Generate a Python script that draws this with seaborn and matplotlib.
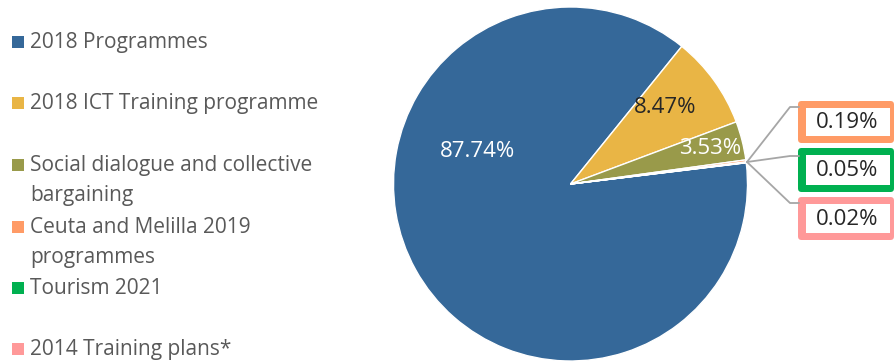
import matplotlib
matplotlib.use("Agg")
import matplotlib.pyplot as plt
from matplotlib.patches import Rectangle, FancyBboxPatch
from matplotlib.lines import Line2D
import seaborn as sns

sns.set_theme(style="white")
plt.rcParams['font.family'] = ['Open Sans', 'DejaVu Sans']

# ---- data ----
categories = ["2018 Programmes", "2018 ICT Training programme",
              "Social dialogue and collective\nbargaining",
              "Ceuta and Melilla 2019\nprogrammes", "Tourism 2021",
              "2014 Training plans*"]
shares = [87.74, 8.47, 3.53, 0.19, 0.05, 0.02]
pct_labels = ["87.74%", "8.47%", "3.53%", "0.19%", "0.05%", "0.02%"]
colors = ["#356899", "#E9B545", "#999A4A", "#FF9B66", "#00B050", "#FF9999"]

W, H = 894, 363
fig = plt.figure(figsize=(W / 100, H / 100), dpi=100)

def fx(px):
    return px / W

def fy(py):
    return 1 - py / H

# pie axes: center (570,184), radius 177
cx, cy, r = 570.5, 184, 177
ax = fig.add_axes([fx(cx - r), fy(cy + r), 2 * r / W, 2 * r / H])
ax.pie(shares, colors=colors, startangle=6.9, counterclock=False,
       radius=1, wedgeprops=dict(edgecolor="white", linewidth=1.0))
ax.set_xlim(-1, 1)
ax.set_ylim(-1, 1)
ax.set_aspect('equal')
ax.axis('off')

# in-pie labels
inside = [(-0.525, 0.186, "white"), (0.537, 0.435, "#262626"), (0.79, 0.198, "white")]
for (x, y, c), lab in zip(inside, pct_labels[:3]):
    ax.text(x, y, lab, color=c, fontsize=16, ha="center", va="center")

# callouts for tiny slices
anchor = (747, 162)
box_tops = [101, 148, 197]
box_bottoms = [143, 192, 240]
line_ys = [107, 156, 203]
for lab, col, top, bot, ly in zip(pct_labels[3:], colors[3:], box_tops, box_bottoms, line_ys):
    fig.add_artist(Line2D([fx(anchor[0]), fx(790), fx(799)],
                          [fy(anchor[1]), fy(ly), fy(ly)],
                          color="#A6A6A6", linewidth=1.3, transform=fig.transFigure))
    fig.add_artist(FancyBboxPatch((fx(798), fy(bot)), fx(96), (bot - top) / H,
                                  boxstyle="round,pad=0,rounding_size=0.004",
                                  facecolor=col, edgecolor="none",
                                  transform=fig.transFigure, mutation_aspect=W / H))
    fig.add_artist(Rectangle((fx(806), fy(bot - 7)), fx(84), (bot - top - 14) / H,
                             facecolor="white", edgecolor="none",
                             transform=fig.transFigure))
    fig.text(fx(847), fy((top + bot) / 2 + 1), lab, fontsize=16, color="#262626",
             ha="center", va="center")

# legend
legend_y = [42, 103, 165, 227, 288, 349]
for cat, col, y in zip(categories, colors, legend_y):
    fig.add_artist(Rectangle((fx(12), fy(y + 6)), fx(12), 12 / H,
                             facecolor=col, edgecolor="none",
                             transform=fig.transFigure))
    fig.text(fx(30), fy(y - 10), cat, fontsize=15, color="#595959",
             ha="left", va="top", linespacing=1.55)

fig.savefig("out.png", dpi=100)
